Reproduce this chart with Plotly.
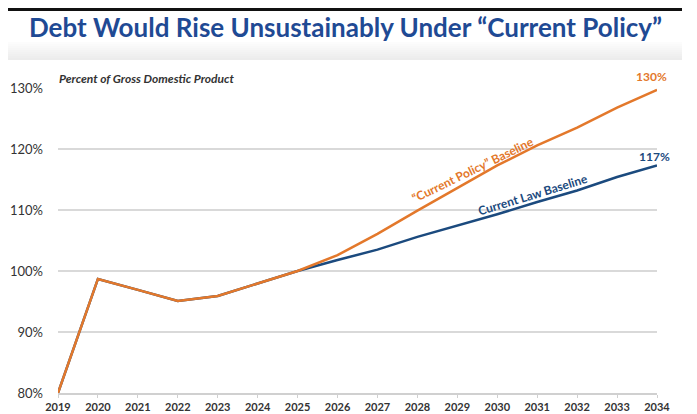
import plotly.graph_objects as go

years = list(range(2019, 2035))
current_policy = [80.0, 98.7, 96.9, 95.1, 95.9, 98.0, 100.0, 102.6, 106.1, 109.9, 113.6, 117.3, 120.6, 123.5, 126.8, 129.7]
current_law = [80.0, 98.7, 96.9, 95.1, 95.9, 98.0, 100.0, 101.8, 103.5, 105.6, 107.4, 109.3, 111.3, 113.2, 115.4, 117.3]
y_ticks = [80, 90, 100, 110, 120, 130]
y_tick_labels = ["80%", "90%", "100%", "110%", "120%", "130%"]

ORANGE = "#E3782B"
BLUE = "#1B4A7E"
TITLE_BLUE = "#1F4A94"
FONT = "Lato"

OFF = 8  # page body margin
W, H = 697 - OFF, 414 - OFF
PL, PT = 58 - OFF, 88 - OFF
PR = W - (657 - OFF)
PB = H - (393 - OFF)
PW, PH = W - PL - PR, H - PT - PB


def px_x(x):  # window pixel -> paper
    return (x - OFF - PL) / PW


def px_y(y):
    return 1 - (y - OFF - PT) / PH


fig = go.Figure()
fig.add_trace(go.Scatter(x=years, y=current_law, mode="lines",
                         line=dict(color=BLUE, width=2.5), hoverinfo="skip"))
fig.add_trace(go.Scatter(x=years, y=current_policy, mode="lines",
                         line=dict(color=ORANGE, width=2.5), hoverinfo="skip"))

fig.update_layout(
    width=W, height=H,
    margin=dict(l=PL, r=PR, t=PT, b=PB),
    paper_bgcolor="white", plot_bgcolor="white",
    showlegend=False,
    font=dict(family=FONT, color="#333333"),
    xaxis=dict(range=[2019, 2034], tickmode="array", tickvals=years,
               ticktext=[f"<b>{y}</b>" for y in years],
               showgrid=False, zeroline=False, automargin=False,
               showline=True, linecolor="#D0D0D0", linewidth=1.5,
               ticks="outside", ticklen=3, tickcolor="#D0D0D0",
               tickfont=dict(size=11, color="#333333", family=FONT),
               fixedrange=True),
    yaxis=dict(range=[80, 130], tickmode="array", tickvals=y_ticks, ticktext=y_tick_labels,
               showgrid=True, gridcolor="#D9D9D9", gridwidth=1.5, zeroline=False,
               showline=False, ticks="", ticklabelstandoff=14, automargin=False,
               tickfont=dict(size=13, color="#333333", family=FONT),
               fixedrange=True),
)

# header decorations
fig.add_shape(type="rect", xref="paper", yref="paper", x0=px_x(0), x1=px_x(682),
              y0=px_y(11), y1=px_y(8), fillcolor="#111111", line_width=0, layer="below")
for i in range(9):
    y_top = 42 + i * 2
    shade = 252 - i * 2
    fig.add_shape(type="rect", xref="paper", yref="paper", x0=px_x(8), x1=px_x(682),
                  y0=px_y(y_top + 2), y1=px_y(y_top),
                  fillcolor=f"rgb({shade},{shade},{shade})", line_width=0, layer="below")

fig.add_annotation(text="<b>Debt Would Rise Unsustainably Under “Current Policy”</b>",
                   xref="paper", yref="paper", x=px_x(345), y=px_y(27),
                   showarrow=False, xanchor="center", yanchor="middle",
                   font=dict(size=26, color=TITLE_BLUE, family=FONT))
fig.add_annotation(text="<b><i>Percent of Gross Domestic Product</i></b>",
                   xref="paper", yref="paper", x=px_x(57), y=px_y(79),
                   showarrow=False, xanchor="left", yanchor="middle",
                   font=dict(size=12, color="#333333", family=FONT))
fig.add_annotation(text="<b>130%</b>", xref="paper", yref="paper", x=px_x(669), y=px_y(76),
                   xanchor="right", yanchor="middle", showarrow=False,
                   font=dict(size=12, color=ORANGE, family=FONT))
fig.add_annotation(text="<b>117%</b>", xref="paper", yref="paper", x=px_x(672), y=px_y(156),
                   xanchor="right", yanchor="middle", showarrow=False,
                   font=dict(size=12, color=BLUE, family=FONT))
fig.add_annotation(text="<b>“Current Policy” Baseline</b>", x=2029.4, y=116.6, xref="x", yref="y",
                   showarrow=False, textangle=-26, font=dict(size=12, color=ORANGE, family=FONT))
fig.add_annotation(text="<b>Current Law Baseline</b>", x=2030.9, y=112.5, xref="x", yref="y",
                   showarrow=False, textangle=-17, font=dict(size=12, color=BLUE, family=FONT))

fig.write_html("out.html")
